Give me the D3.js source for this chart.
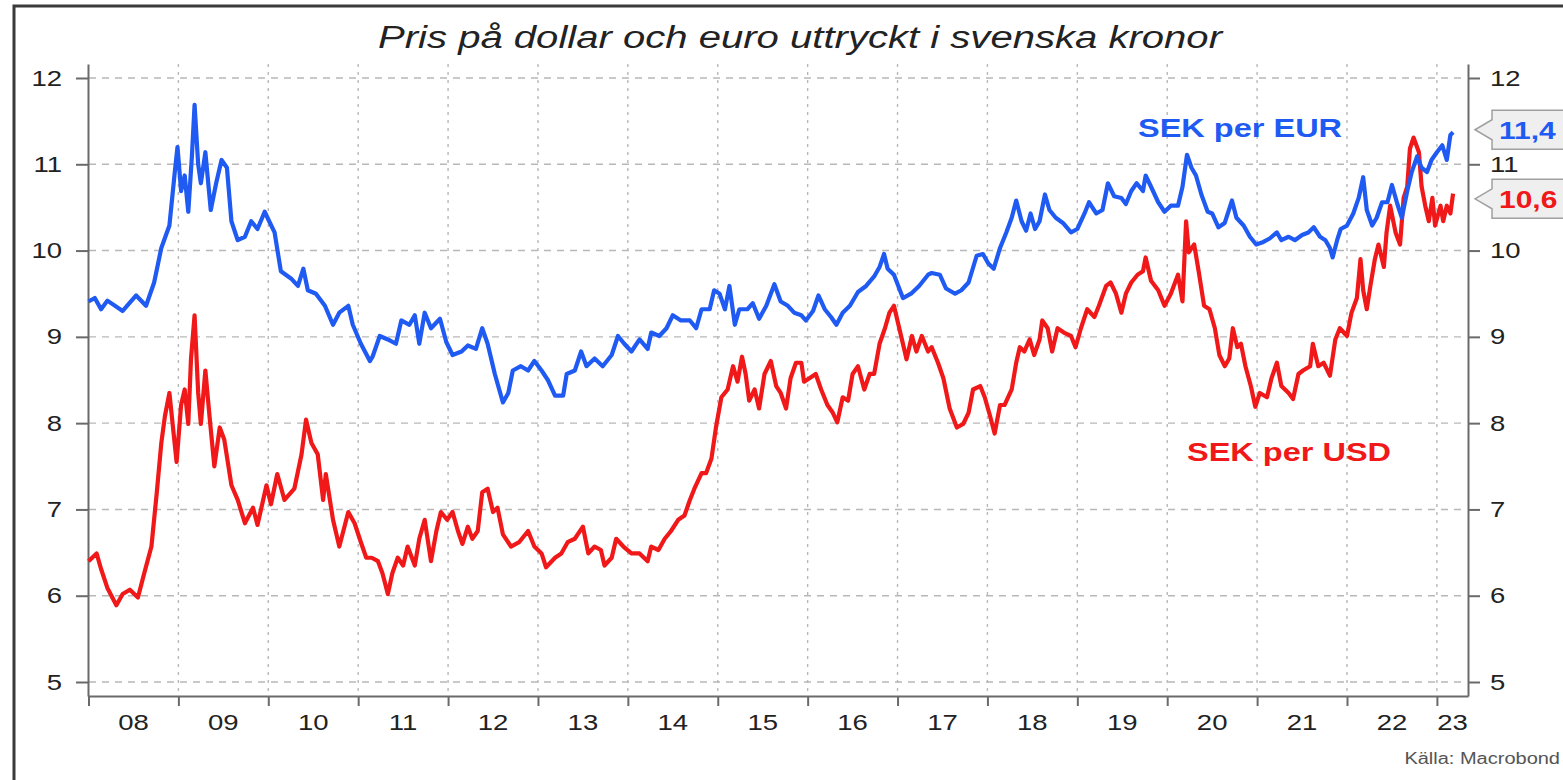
<!DOCTYPE html>
<html>
<head>
<meta charset="utf-8">
<script src="https://cdn.jsdelivr.net/npm/d3@7"></script>
<style>
  html, body { margin: 0; padding: 0; background: #fff; overflow: hidden; }
  svg text { font-family: "Liberation Sans", Arial, sans-serif; }
</style>
</head>
<body>
<svg id="chart" width="1563" height="780"></svg>
<script>
// ---------------- DATA ----------------
const title = "Pris på dollar och euro uttryckt i svenska kronor";
const source = "Källa: Macrobond";
const seriesNames = ["SEK per EUR", "SEK per USD"];
const lastLabels = ["11,4", "10,6"];
const lastValues = [11.4, 10.6];
const yTicks = [5, 6, 7, 8, 9, 10, 11, 12];
const yearTicks = [2008, 2009, 2010, 2011, 2012, 2013, 2014, 2015, 2016, 2017, 2018, 2019, 2020, 2021, 2022, 2023];
const yearLabels = ["08", "09", "10", "11", "12", "13", "14", "15", "16", "17", "18", "19", "20", "21", "22", "23"];
const xEnd = 2023.346;

// SEK per EUR (time in decimal years)
const eurT = [2008.00,2008.07,2008.14,2008.21,2008.38,2008.53,2008.64,2008.73,2008.81,2008.90,2008.96,2008.99,
2009.03,2009.07,2009.11,2009.15,2009.18,2009.22,2009.25,2009.30,2009.36,2009.42,2009.48,2009.54,2009.59,2009.66,2009.74,2009.81,2009.88,2009.96,
2010.01,2010.07,2010.14,2010.26,2010.33,2010.39,2010.44,2010.53,2010.63,2010.72,2010.79,2010.89,2010.94,
2011.03,2011.13,2011.16,2011.24,2011.33,2011.42,2011.48,2011.57,2011.63,2011.68,2011.74,2011.81,2011.91,2011.98,
2012.05,2012.15,2012.22,2012.31,2012.38,2012.44,2012.52,2012.61,2012.67,2012.72,2012.81,2012.89,2012.96,
2013.04,2013.11,2013.19,2013.28,2013.32,2013.41,2013.48,2013.54,2013.63,2013.72,2013.82,2013.89,2013.96,
2014.04,2014.13,2014.22,2014.26,2014.35,2014.43,2014.50,2014.59,2014.69,2014.76,2014.82,2014.91,2014.96,
2015.02,2015.08,2015.13,2015.19,2015.24,2015.33,2015.39,2015.46,2015.54,2015.63,2015.70,2015.78,2015.85,2015.93,2015.98,
2016.06,2016.12,2016.19,2016.26,2016.32,2016.39,2016.47,2016.56,2016.65,2016.74,2016.80,2016.85,2016.89,2016.96,
2017.06,2017.15,2017.24,2017.34,2017.38,2017.47,2017.54,2017.64,2017.71,2017.79,2017.88,2017.95,
2018.01,2018.07,2018.14,2018.21,2018.27,2018.32,2018.38,2018.43,2018.48,2018.53,2018.58,2018.64,2018.69,2018.76,2018.84,2018.93,
2019.00,2019.08,2019.13,2019.21,2019.28,2019.34,2019.41,2019.49,2019.54,2019.60,2019.66,2019.73,2019.76,2019.82,2019.90,2019.97,
2020.04,2020.12,2020.17,2020.22,2020.27,2020.32,2020.38,2020.45,2020.50,2020.57,2020.64,2020.72,2020.77,2020.85,2020.92,2020.99,
2021.07,2021.14,2021.22,2021.27,2021.35,2021.42,2021.50,2021.57,2021.63,2021.70,2021.76,2021.81,2021.84,2021.89,2021.93,
2022.00,2022.07,2022.13,2022.18,2022.22,2022.28,2022.33,2022.39,2022.45,2022.50,2022.56,2022.61,2022.67,2022.72,2022.78,2022.83,2022.89,2022.94,
2023.00,2023.06,2023.11,2023.15,2023.18];
const eurV = [9.41,9.45,9.32,9.42,9.30,9.48,9.36,9.63,10.03,10.29,10.91,11.20,
10.69,10.87,10.45,11.09,11.69,11.00,10.78,11.14,10.47,10.78,11.05,10.96,10.34,10.12,10.16,10.34,10.25,10.45,
10.34,10.21,9.76,9.67,9.59,9.79,9.54,9.50,9.36,9.14,9.28,9.36,9.14,
8.92,8.72,8.77,9.01,8.97,8.92,9.19,9.14,9.25,8.92,9.28,9.10,9.21,8.94,
8.79,8.83,8.90,8.86,9.10,8.92,8.57,8.24,8.35,8.61,8.66,8.61,8.72,
8.61,8.50,8.32,8.32,8.57,8.61,8.83,8.66,8.75,8.66,8.79,9.01,8.92,
8.83,8.97,8.86,9.05,9.01,9.10,9.25,9.19,9.19,9.10,9.32,9.32,9.54,
9.50,9.32,9.59,9.14,9.32,9.32,9.39,9.21,9.36,9.61,9.41,9.36,9.28,9.25,9.19,
9.30,9.48,9.32,9.23,9.14,9.28,9.36,9.52,9.59,9.70,9.81,9.96,9.79,9.72,
9.45,9.50,9.59,9.72,9.74,9.72,9.56,9.50,9.54,9.63,9.94,9.96,
9.85,9.79,10.03,10.21,10.38,10.58,10.34,10.23,10.43,10.25,10.34,10.65,10.47,10.38,10.32,10.21,
10.25,10.43,10.56,10.43,10.47,10.78,10.63,10.61,10.54,10.69,10.78,10.69,10.87,10.74,10.56,10.45,
10.52,10.52,10.74,11.11,10.96,10.87,10.65,10.45,10.43,10.27,10.32,10.58,10.38,10.29,10.16,10.07,
10.10,10.14,10.21,10.12,10.16,10.12,10.18,10.21,10.27,10.16,10.12,10.03,9.92,10.12,10.25,
10.29,10.43,10.61,10.85,10.47,10.29,10.38,10.56,10.56,10.76,10.54,10.38,10.69,10.91,11.09,10.96,10.91,11.05,
11.14,11.22,11.05,11.34,11.37];

// SEK per USD
const usdT = [2008.00,2008.09,2008.14,2008.21,2008.31,2008.38,2008.46,2008.55,2008.62,2008.70,2008.76,2008.81,2008.85,2008.90,2008.94,2008.98,
2009.03,2009.07,2009.11,2009.14,2009.18,2009.22,2009.25,2009.30,2009.35,2009.40,2009.46,2009.51,2009.59,2009.66,2009.74,2009.83,2009.88,2009.98,
2010.03,2010.10,2010.18,2010.29,2010.37,2010.42,2010.48,2010.55,2010.61,2010.64,2010.72,2010.79,2010.89,2010.96,
2011.03,2011.09,2011.15,2011.22,2011.27,2011.33,2011.38,2011.44,2011.50,2011.55,2011.63,2011.68,2011.74,2011.81,2011.87,2011.92,2011.99,
2012.05,2012.11,2012.16,2012.22,2012.27,2012.33,2012.38,2012.44,2012.50,2012.55,2012.61,2012.70,2012.79,2012.89,2012.96,
2013.04,2013.09,2013.19,2013.26,2013.33,2013.41,2013.50,2013.56,2013.63,2013.70,2013.74,2013.82,2013.87,2013.95,
2014.04,2014.13,2014.22,2014.26,2014.34,2014.41,2014.48,2014.56,2014.63,2014.69,2014.74,2014.82,2014.87,2014.93,2014.98,
2015.04,2015.11,2015.17,2015.22,2015.27,2015.31,2015.35,2015.41,2015.46,2015.52,2015.59,2015.65,2015.70,2015.76,2015.81,2015.87,2015.93,2015.96,
2016.02,2016.09,2016.15,2016.22,2016.28,2016.33,2016.39,2016.45,2016.50,2016.56,2016.63,2016.69,2016.74,2016.80,2016.86,2016.91,2016.96,
2017.01,2017.06,2017.10,2017.16,2017.21,2017.27,2017.34,2017.38,2017.45,2017.51,2017.58,2017.66,2017.73,2017.79,2017.84,2017.92,2017.97,
2018.03,2018.08,2018.14,2018.19,2018.27,2018.32,2018.36,2018.41,2018.47,2018.52,2018.58,2018.61,2018.67,2018.72,2018.78,2018.85,2018.93,2018.98,
2019.04,2019.11,2019.19,2019.24,2019.32,2019.37,2019.43,2019.49,2019.54,2019.60,2019.67,2019.73,2019.76,2019.82,2019.90,2019.97,
2020.04,2020.12,2020.17,2020.21,2020.24,2020.30,2020.35,2020.41,2020.47,2020.53,2020.58,2020.64,2020.69,2020.73,2020.78,2020.82,2020.87,2020.93,2020.98,
2021.03,2021.11,2021.16,2021.22,2021.27,2021.35,2021.40,2021.46,2021.51,2021.59,2021.62,2021.68,2021.74,2021.81,2021.87,2021.92,
2022.00,2022.05,2022.11,2022.15,2022.18,2022.22,2022.26,2022.31,2022.35,2022.41,2022.44,2022.48,2022.54,2022.59,2022.63,2022.67,2022.70,2022.74,2022.80,2022.83,2022.87,2022.91,2022.95,2022.98,
2023.04,2023.07,2023.11,2023.15,2023.18];
const usdV = [6.40,6.49,6.31,6.09,5.89,6.02,6.07,5.98,6.26,6.57,7.20,7.77,8.08,8.35,7.95,7.55,
8.21,8.39,7.99,8.74,9.25,8.35,7.99,8.61,8.04,7.50,7.95,7.81,7.28,7.11,6.84,7.02,6.82,7.28,
7.06,7.41,7.11,7.24,7.64,8.04,7.77,7.64,7.11,7.41,6.88,6.57,6.97,6.84,
6.62,6.44,6.44,6.40,6.26,6.02,6.26,6.44,6.35,6.57,6.35,6.66,6.88,6.40,6.75,6.97,6.88,
6.97,6.75,6.60,6.80,6.66,6.75,7.20,7.24,6.97,7.02,6.71,6.57,6.62,6.75,6.57,
6.49,6.33,6.44,6.49,6.62,6.66,6.80,6.49,6.57,6.53,6.35,6.44,6.66,6.57,
6.49,6.49,6.40,6.57,6.53,6.66,6.75,6.88,6.93,7.11,7.24,7.42,7.42,7.59,7.95,
8.30,8.39,8.66,8.48,8.77,8.57,8.26,8.39,8.17,8.57,8.72,8.43,8.35,8.17,8.52,8.70,8.70,8.48,
8.52,8.57,8.39,8.21,8.12,8.01,8.30,8.26,8.57,8.66,8.39,8.57,8.57,8.92,9.10,9.28,9.36,
9.14,8.92,8.74,9.01,8.83,9.01,8.83,8.88,8.70,8.52,8.17,7.95,7.99,8.12,8.39,8.43,8.30,
8.08,7.88,8.21,8.21,8.39,8.70,8.88,8.83,8.97,8.79,8.97,9.19,9.10,8.83,9.10,9.05,9.01,8.88,
9.10,9.32,9.23,9.36,9.59,9.63,9.50,9.28,9.50,9.63,9.72,9.76,9.92,9.65,9.54,9.36,
9.50,9.72,9.41,10.34,9.98,10.07,9.76,9.36,9.32,9.10,8.79,8.66,8.75,9.10,8.88,8.92,8.66,8.43,8.19,
8.35,8.30,8.52,8.70,8.43,8.35,8.28,8.57,8.61,8.66,8.92,8.66,8.70,8.55,8.97,9.10,
9.01,9.28,9.45,9.90,9.54,9.32,9.59,9.90,10.07,9.81,10.21,10.52,10.21,10.07,10.61,10.74,11.18,11.31,11.14,10.74,10.52,10.34,10.61,10.29,
10.52,10.34,10.52,10.43,10.66];

const colors = ["#1f5af2", "#f01818"];

// ---------------- CHART ----------------
const svg = d3.select("#chart");
const K = 1.25; // horizontal text stretch of the original picture

function stretch(sel) {
  sel.each(function () {
    const L = this.getComputedTextLength();
    if (L > 0) {
      this.setAttribute("textLength", (L * K).toFixed(1));
      this.setAttribute("lengthAdjust", "spacingAndGlyphs");
    }
  });
}

const x = d3.scaleLinear().domain([2008, xEnd]).range([88.5, 1468]);
const y = d3.scaleLinear().domain([5 - 14 / 86.3, 12 + 14 / 86.3]).range([696, 64]);

// outer frame
svg.append("rect").attr("x", 14).attr("y", 6).attr("width", 1600).attr("height", 800)
  .attr("fill", "none").attr("stroke", "#3a3a3a").attr("stroke-width", 3);

// title
svg.append("text").attr("x", 800).attr("y", 48).attr("text-anchor", "middle")
  .attr("font-size", 31).attr("font-style", "italic").attr("fill", "#222")
  .attr("textLength", 844).attr("lengthAdjust", "spacingAndGlyphs")
  .text(title);

// grid
const grid = svg.append("g");
grid.selectAll("line.h").data(yTicks).join("line").attr("class", "h")
  .attr("x1", 89).attr("x2", 1467).attr("y1", d => y(d)).attr("y2", d => y(d))
  .attr("stroke", "#b8b8b8").attr("stroke-width", 1.4).attr("stroke-dasharray", "7,6");
grid.selectAll("line.v").data(yearTicks.slice(1)).join("line").attr("class", "v")
  .attr("x1", d => x(d)).attr("x2", d => x(d)).attr("y1", 64).attr("y2", 695)
  .attr("stroke", "#b8b8b8").attr("stroke-width", 1.4).attr("stroke-dasharray", "3,5");

// axes
function styleAxis(g) {
  g.selectAll(".domain").attr("stroke", "#6a6a6a").attr("stroke-width", 2);
  g.selectAll(".tick line").attr("stroke", "#6a6a6a").attr("stroke-width", 2);
  g.selectAll(".tick text").attr("font-size", 22).attr("fill", "#222")
    .attr("font-family", "'Liberation Sans', Arial, sans-serif");
}
const gl = svg.append("g").attr("transform", "translate(88,0)")
  .call(d3.axisLeft(y).tickValues(yTicks).tickSize(12).tickSizeOuter(0).tickPadding(14).tickFormat(d3.format("d")));
styleAxis(gl);
const gr = svg.append("g").attr("transform", "translate(1468,0)")
  .call(d3.axisRight(y).tickValues(yTicks).tickSize(12).tickSizeOuter(0).tickPadding(10).tickFormat(d3.format("d")));
styleAxis(gr);
const gb = svg.append("g").attr("transform", "translate(0,696)")
  .call(d3.axisBottom(x).tickValues(yearTicks).tickSize(10).tickSizeOuter(0).tickFormat(""));
styleAxis(gb);
stretch(gl.selectAll(".tick text"));
stretch(gr.selectAll(".tick text"));

// year labels (centered in each year's visible span)
svg.append("g").selectAll("text").data(yearTicks).join("text")
  .attr("x", d => (x(d) + x(Math.min(d + 1, xEnd))) / 2)
  .attr("y", 730).attr("text-anchor", "middle").attr("font-size", 22).attr("fill", "#222")
  .text((d, i) => yearLabels[i])
  .call(stretch);

// lines
const line = d3.line().x(d => x(d[0])).y(d => y(d[1]));
const eurData = eurT.map((t, i) => [t, eurV[i]]);
const usdData = usdT.map((t, i) => [t, usdV[i]]);
svg.append("path").datum(usdData).attr("d", line).attr("fill", "none")
  .attr("stroke", colors[1]).attr("stroke-width", 4.2).attr("stroke-linejoin", "round");
svg.append("path").datum(eurData).attr("d", line).attr("fill", "none")
  .attr("stroke", colors[0]).attr("stroke-width", 4.2).attr("stroke-linejoin", "round");

// series labels
svg.append("text").attr("x", 1138).attr("y", 137).attr("font-size", 26).attr("font-weight", "bold")
  .attr("fill", colors[0]).text(seriesNames[0]).call(stretch);
svg.append("text").attr("x", 1187).attr("y", 461).attr("font-size", 26).attr("font-weight", "bold")
  .attr("fill", colors[1]).text(seriesNames[1]).call(stretch);

// last value tags
lastValues.forEach((v, i) => {
  const yv = y(v);
  const g = svg.append("g");
  g.append("path")
    .attr("d", `M1475,${yv} L1492,${yv - 10} L1492,${yv - 19.5} L1600,${yv - 19.5} L1600,${yv + 19.5} L1492,${yv + 19.5} L1492,${yv + 10} Z`)
    .attr("fill", "#efefef").attr("stroke", "#a0a0a0").attr("stroke-width", 1.5);
  g.append("text").attr("x", 1499).attr("y", yv + 9).attr("font-size", 24).attr("font-weight", "bold")
    .attr("fill", colors[i]).text(lastLabels[i]).call(stretch);
});

// source
svg.append("text").attr("x", 1560).attr("y", 764).attr("text-anchor", "end")
  .attr("font-size", 16).attr("fill", "#555").text(source).call(stretch);
</script>
</body>
</html>
